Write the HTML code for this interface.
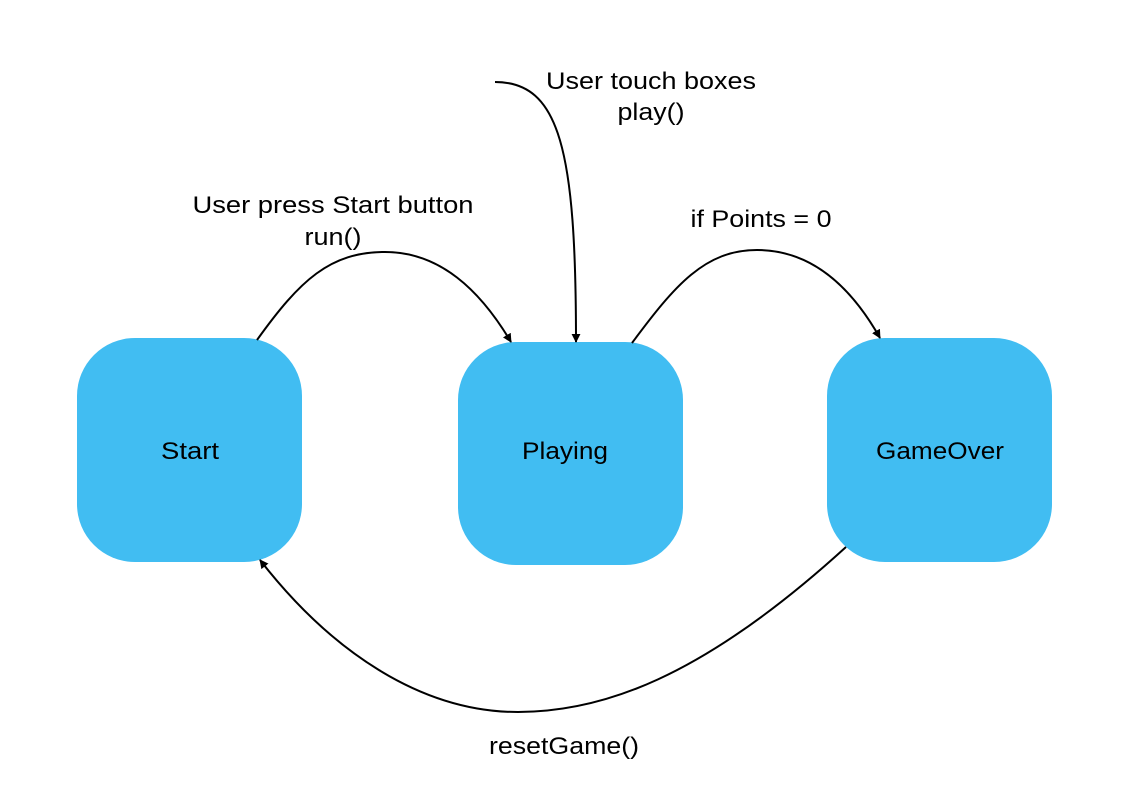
<!DOCTYPE html>
<html><head><meta charset="utf-8"><style>
html,body{margin:0;padding:0;background:#fff;}
body{width:1146px;height:806px;position:relative;overflow:hidden;font-family:"Liberation Sans",sans-serif;}
</style></head><body>
<svg width="1146" height="806" viewBox="0 0 1146 806" xmlns="http://www.w3.org/2000/svg" style="position:absolute;left:0;top:0">
<defs>
<marker id="a" viewBox="0 0 10 10" refX="9" refY="5" markerWidth="9" markerHeight="9" orient="auto" markerUnits="userSpaceOnUse">
<path d="M0,0 L10,5 L0,10 z" fill="#000"/>
</marker>
</defs>
<g fill="#41BDF2">
<rect x="77" y="338" width="225" height="224" rx="58" ry="58"/>
<rect x="458" y="342" width="225" height="223" rx="58" ry="58"/>
<rect x="827" y="338" width="225" height="224" rx="58" ry="58"/>
</g>
<g fill="none" stroke="#000" stroke-width="2">
<path d="M257,340 C300,280 330,252 385,252 C440,252 480,290 511,342" marker-end="url(#a)"/>
<path d="M495,82 C560,82 576,150 576,342" marker-end="url(#a)"/>
<path d="M632,343 C675,285 705,250 757,250 C810,250 850,285 880,338" marker-end="url(#a)"/>
<path d="M846,547 C700,680 600,712 518,712 C420,712 330,650 260,560" marker-end="url(#a)"/>
</g>
<g font-family="Liberation Sans, sans-serif" font-size="24" fill="#000" text-anchor="middle" lengthAdjust="spacingAndGlyphs">
<text x="190" y="459" textLength="58" lengthAdjust="spacingAndGlyphs">Start</text>
<text x="565" y="459" textLength="86" lengthAdjust="spacingAndGlyphs">Playing</text>
<text x="940" y="459" textLength="128" lengthAdjust="spacingAndGlyphs">GameOver</text>
<text x="333" y="213" textLength="281" lengthAdjust="spacingAndGlyphs">User press Start button</text>
<text x="333" y="245" textLength="57" lengthAdjust="spacingAndGlyphs">run()</text>
<text x="651" y="89" textLength="210" lengthAdjust="spacingAndGlyphs">User touch boxes</text>
<text x="651" y="120" textLength="67" lengthAdjust="spacingAndGlyphs">play()</text>
<text x="761" y="227" textLength="141" lengthAdjust="spacingAndGlyphs">if Points = 0</text>
<text x="564" y="754" textLength="150" lengthAdjust="spacingAndGlyphs">resetGame()</text>
</g>
</svg>
</body></html>
